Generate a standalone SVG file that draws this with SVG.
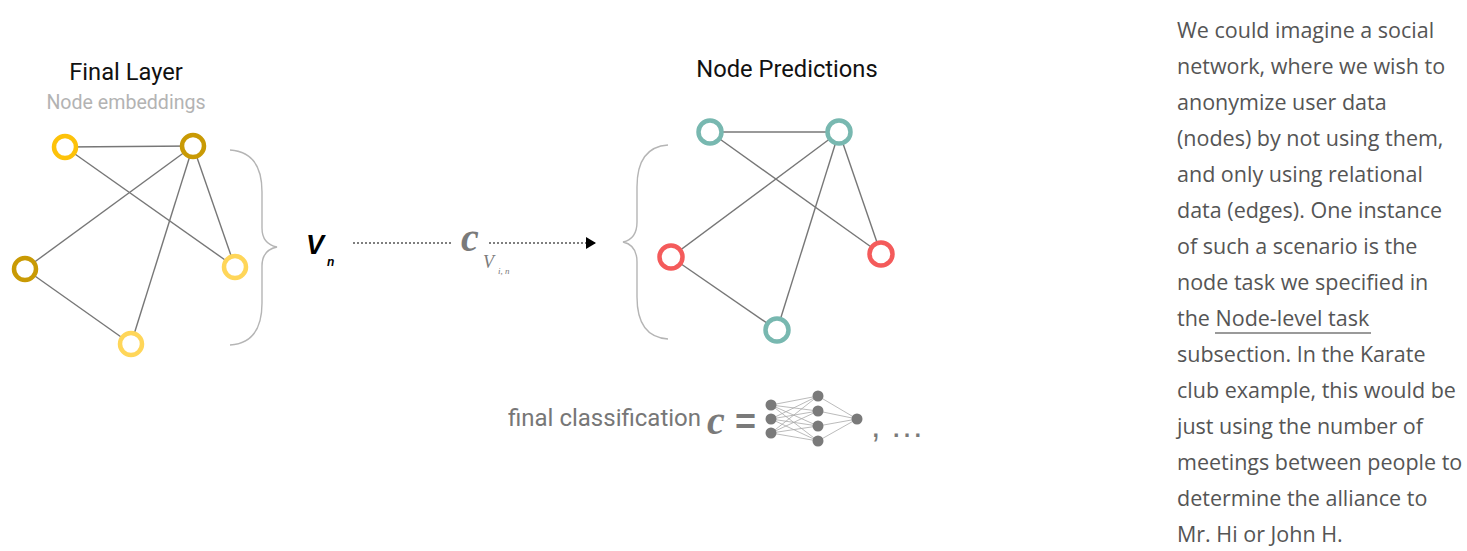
<svg xmlns="http://www.w3.org/2000/svg" width="1467" height="551" viewBox="0 0 1467 551">
<defs>
<style>
.edge{stroke:#777;stroke-width:1.4;fill:none}
.brace{stroke:#b5b5b5;stroke-width:1.4;fill:none}
.nd{fill:#fff;stroke-width:4.5}
.title{font-family:Roboto,"Liberation Sans",sans-serif;font-size:23.7px;fill:#111}
.sub{font-family:Roboto,"Liberation Sans",sans-serif;font-size:19.6px;fill:#b3b3b3}
.para{font-family:"Open Sans","Liberation Sans",sans-serif;font-size:21.5px;fill:#555}
.math{font-family:"Liberation Serif",serif;font-style:italic;fill:#7a7a7a}
.nn{stroke:#aaa;stroke-width:0.8}
.nnd{fill:#7a7a7a}
</style>
<marker id="arr" markerWidth="10" markerHeight="12" refX="10" refY="6" orient="auto" markerUnits="userSpaceOnUse">
<path d="M0,0 L10,6 L0,12 Z" fill="#000"/>
</marker>
</defs>
<rect width="1467" height="551" fill="#fff"/>

<text class="title" x="126" y="80" text-anchor="middle">Final Layer</text>
<text class="sub" x="126" y="109" text-anchor="middle">Node embeddings</text>
<text class="title" x="787" y="77" text-anchor="middle">Node Predictions</text>

<g id="connectors">
<line class="edge" x1="65" y1="147" x2="193" y2="146"/>
<line class="edge" x1="65" y1="147" x2="235" y2="267"/>
<line class="edge" x1="193" y1="146" x2="25" y2="269"/>
<line class="edge" x1="193" y1="146" x2="235" y2="267"/>
<line class="edge" x1="193" y1="146" x2="131" y2="344"/>
<line class="edge" x1="25" y1="269" x2="131" y2="344"/>
<line class="edge" x1="710" y1="132" x2="839" y2="132"/>
<line class="edge" x1="710" y1="132" x2="881" y2="254"/>
<line class="edge" x1="839" y1="132" x2="671" y2="257"/>
<line class="edge" x1="839" y1="132" x2="881" y2="254"/>
<line class="edge" x1="839" y1="132" x2="777" y2="330"/>
<line class="edge" x1="671" y1="257" x2="777" y2="330"/>
<path class="brace" d="M230,150 Q262,152 262,192 L262,228 Q262,244 277,247 Q262,250 262,266 L262,303 Q262,343 230,345"/>
<path class="brace" d="M668,145 Q637,147 637,187 L637,222 Q637,239 623,242 Q637,245 637,262 L637,297 Q637,337 668,339"/>
<line x1="353" y1="243" x2="452" y2="243" stroke="#000" stroke-width="1.2" stroke-dasharray="2,2"/>
<line x1="489" y1="243" x2="596" y2="243" stroke="#000" stroke-width="1.2" stroke-dasharray="2,2" marker-end="url(#arr)"/>
</g>

<g id="node-l1"><circle class="nd" cx="65" cy="147" r="11" stroke="#FDC20A"/></g>
<g id="node-l2"><circle class="nd" cx="193" cy="146" r="11" stroke="#C99A04"/></g>
<g id="node-l3"><circle class="nd" cx="25" cy="269" r="11" stroke="#C99A04"/></g>
<g id="node-l4"><circle class="nd" cx="235" cy="267" r="11" stroke="#FFD659"/></g>
<g id="node-l5"><circle class="nd" cx="131" cy="344" r="11" stroke="#FFD659"/></g>

<g id="node-r1"><circle class="nd" cx="710" cy="132" r="11.5" stroke="#78B8B0"/></g>
<g id="node-r2"><circle class="nd" cx="839" cy="132" r="11.5" stroke="#78B8B0"/></g>
<g id="node-r3"><circle class="nd" cx="671" cy="257" r="11.5" stroke="#F45B5B"/></g>
<g id="node-r4"><circle class="nd" cx="881" cy="254" r="11.5" stroke="#F45B5B"/></g>
<g id="node-r5"><circle class="nd" cx="777" cy="330" r="11.5" stroke="#78B8B0"/></g>

<g id="formula">
<text x="306" y="254" font-family="'Liberation Sans',sans-serif" font-weight="bold" font-style="italic" font-size="27" fill="#000">V</text>
<text x="327" y="266" font-family="'Liberation Sans',sans-serif" font-weight="bold" font-style="italic" font-size="12" fill="#000">n</text>
<text class="math" x="461" y="251" font-size="40" font-weight="bold">c</text>
<text class="math" x="483" y="268" font-size="18">V</text>
<text class="math" x="498" y="274" font-size="9">i, n</text>
</g>

<g id="classification">
<text x="508" y="426" font-family="Roboto,'Liberation Sans',sans-serif" font-size="24" fill="#777">final classification</text>
<text class="math" x="707" y="434" font-size="40" font-weight="bold">c</text>
<text x="735" y="434" font-family="'Liberation Sans',sans-serif" font-size="36" font-weight="bold" fill="#7a7a7a">=</text>
<g class="nn">
<line x1="771" y1="405" x2="818" y2="396"/><line x1="771" y1="405" x2="818" y2="411"/><line x1="771" y1="405" x2="818" y2="426"/><line x1="771" y1="405" x2="818" y2="441"/>
<line x1="771" y1="419" x2="818" y2="396"/><line x1="771" y1="419" x2="818" y2="411"/><line x1="771" y1="419" x2="818" y2="426"/><line x1="771" y1="419" x2="818" y2="441"/>
<line x1="771" y1="433" x2="818" y2="396"/><line x1="771" y1="433" x2="818" y2="411"/><line x1="771" y1="433" x2="818" y2="426"/><line x1="771" y1="433" x2="818" y2="441"/>
<line x1="818" y1="396" x2="857" y2="419"/><line x1="818" y1="411" x2="857" y2="419"/><line x1="818" y1="426" x2="857" y2="419"/><line x1="818" y1="441" x2="857" y2="419"/>
</g>
<circle class="nnd" cx="771" cy="405" r="5.5"/><circle class="nnd" cx="771" cy="419" r="5.5"/><circle class="nnd" cx="771" cy="433" r="5.5"/>
<circle class="nnd" cx="818" cy="396" r="5.5"/><circle class="nnd" cx="818" cy="411" r="5.5"/><circle class="nnd" cx="818" cy="426" r="5.5"/><circle class="nnd" cx="818" cy="441" r="5.5"/>
<circle class="nnd" cx="857" cy="419" r="5.5"/>
<text x="871" y="437" font-family="'Liberation Sans',sans-serif" font-size="34" fill="#7a7a7a">, …</text>
</g>

<g id="paragraph" class="para">
<text x="1177" y="38">We could imagine a social</text>
<text x="1177" y="74">network, where we wish to</text>
<text x="1177" y="110">anonymize user data</text>
<text x="1177" y="146">(nodes) by not using them,</text>
<text x="1177" y="182">and only using relational</text>
<text x="1177" y="218">data (edges). One instance</text>
<text x="1177" y="254">of such a scenario is the</text>
<text x="1177" y="290">node task we specified in</text>
<text x="1177" y="326">the Node-level task</text>
<text x="1177" y="362">subsection. In the Karate</text>
<text x="1177" y="398">club example, this would be</text>
<text x="1177" y="434">just using the number of</text>
<text x="1177" y="470">meetings between people to</text>
<text x="1177" y="506">determine the alliance to</text>
<text x="1177" y="542">Mr. Hi or John H.</text>
<line x1="1215" y1="333" x2="1371" y2="333" stroke="#9a9a9a" stroke-width="2"/>
</g>
</svg>
